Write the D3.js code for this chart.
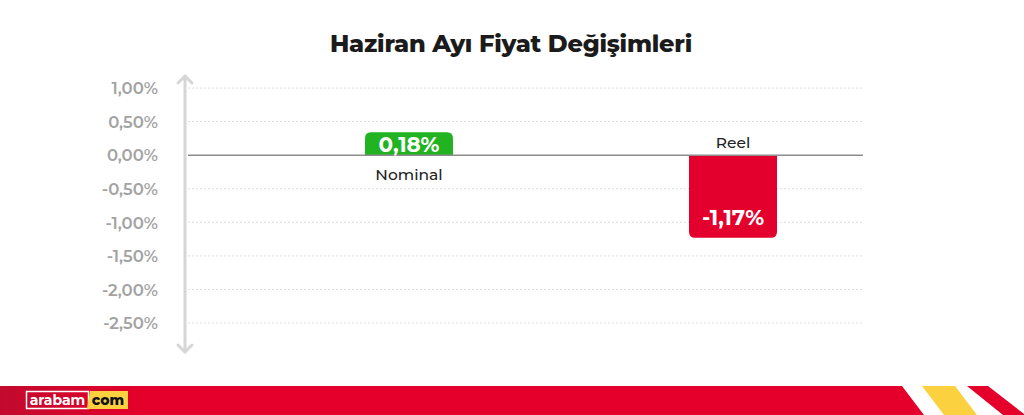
<!DOCTYPE html>
<html><head><meta charset="utf-8">
<script src="https://cdn.jsdelivr.net/npm/d3@7"></script>
<style>html,body{margin:0;padding:0;background:#fff;overflow:hidden}</style>
</head><body>
<svg id="c" width="1024" height="415"></svg>
<script>
const categories = ["Nominal", "Reel"];
const values = [0.18, -1.17];
const valueLabels = ["0,18%", "-1,17%"];
const tickValues = [1, 0.5, 0, -0.5, -1, -1.5, -2, -2.5];
const tickLabels = ["1,00%", "0,50%", "0,00%", "-0,50%", "-1,00%", "-1,50%", "-2,00%", "-2,50%"];
const title = "Haziran Ayı Fiyat Değişimleri";

const svg = d3.select("#c");
const font = "Montserrat, Inter, 'Open Sans', sans-serif";

const y = d3.scaleLinear().domain([1, -2.5]).range([88, 323]);
const x = d3.scalePoint().domain(categories).range([409, 733]);
const barW = 88, minH = 23;

// title
svg.append("text").attr("x", 511).attr("y", 52).attr("text-anchor", "middle")
  .attr("font-family", font).attr("font-weight", 800).attr("font-size", 24)
  .attr("fill", "#1b1b1b").attr("letter-spacing", -0.2).text(title);

// gridlines
svg.append("g").selectAll("line").data(tickValues.filter(d => d !== 0)).join("line")
  .attr("x1", 188).attr("x2", 863).attr("y1", d => y(d)).attr("y2", d => y(d))
  .attr("stroke", "#dedede").attr("stroke-width", 1).attr("stroke-dasharray", "2,2");

// y axis labels
const yAxis = d3.axisLeft(y).tickValues(tickValues).tickFormat((d, i) => tickLabels[i]).tickSize(0).tickPadding(0);
const ga = svg.append("g").attr("transform", "translate(158,0)").call(yAxis);
ga.select(".domain").remove();
ga.selectAll("text").attr("font-family", font).attr("font-weight", 600).attr("font-size", 16.5)
  .attr("fill", "#a3a3a3").attr("dy", "0.35em");

// axis arrow line
const ax = svg.append("g").attr("stroke", "#d6d6d6").attr("stroke-width", 3).attr("fill", "none")
  .attr("stroke-linecap", "round").attr("stroke-linejoin", "round");
ax.append("line").attr("x1", 185).attr("x2", 185).attr("y1", 76).attr("y2", 352);
ax.append("path").attr("d", "M178,83 L185,76 L192,83");
ax.append("path").attr("d", "M178,345 L185,352 L192,345");

// bars
function barPath(cx, v) {
  const y0 = y(0);
  let h = Math.abs(y(v) - y0);
  h = Math.max(h, minH);
  const r = 6, x0 = cx - barW / 2, x1 = cx + barW / 2;
  if (v >= 0) {
    const t = y0 - h;
    return `M${x0},${y0} L${x0},${t + r} Q${x0},${t} ${x0 + r},${t} L${x1 - r},${t} Q${x1},${t} ${x1},${t + r} L${x1},${y0} Z`;
  } else {
    const b = y0 + h + 4;
    return `M${x0},${y0} L${x1},${y0} L${x1},${b - r} Q${x1},${b} ${x1 - r},${b} L${x0 + r},${b} Q${x0},${b} ${x0},${b - r} Z`;
  }
}
const data = categories.map((c, i) => ({c, v: values[i], l: valueLabels[i]}));
svg.append("g").selectAll("path").data(data).join("path")
  .attr("d", d => barPath(x(d.c), d.v))
  .attr("fill", d => d.v >= 0 ? "#22b322" : "#e3002c");

// zero line
svg.append("line").attr("x1", 188).attr("x2", 863).attr("y1", y(0)).attr("y2", y(0))
  .attr("stroke", "#8c8c8c").attr("stroke-width", 1.5);

// value labels
svg.append("g").selectAll("text").data(data).join("text")
  .attr("x", d => x(d.c)).attr("text-anchor", "middle")
  .attr("y", d => d.v >= 0 ? y(0) - Math.max(Math.abs(y(d.v) - y(0)), minH) / 2 + 8 : y(d.v) - 9)
  .attr("font-family", font).attr("font-weight", 700).attr("font-size", 21.5)
  .attr("fill", "#fff").text(d => d.l);

// category labels
svg.append("g").selectAll("text").data(data).join("text")
  .attr("x", d => x(d.c)).attr("text-anchor", "middle")
  .attr("y", d => d.v >= 0 ? y(0) + 25 : y(0) - 7)
  .attr("font-family", font).attr("font-weight", 500).attr("font-size", 15.5)
  .attr("fill", "#222").text(d => d.c);

// footer
const defs = svg.append("defs");
const gr = defs.append("linearGradient").attr("id", "fg");
gr.append("stop").attr("offset", "0").attr("stop-color", "#c20a2e");
gr.append("stop").attr("offset", "0.15").attr("stop-color", "#e4002b");
gr.append("stop").attr("offset", "1").attr("stop-color", "#e4002b");
svg.append("polygon").attr("points", "0,386 902,386 924,415 0,415").attr("fill", "url(#fg)");
svg.append("polygon").attr("points", "922,386 955,386 977,415 944,415").attr("fill", "#fbd140");
svg.append("polygon").attr("points", "967,386 988,386 1024,414 1024,415 1003,415").attr("fill", "#e4002b");

// logo
svg.append("rect").attr("x", 26.5).attr("y", 391.5).attr("width", 62).attr("height", 17)
  .attr("fill", "none").attr("stroke", "#fff").attr("stroke-width", 1.5);
svg.append("text").attr("x", 57.5).attr("y", 405).attr("text-anchor", "middle")
  .attr("font-family", font).attr("font-weight", 700).attr("font-size", 14).attr("fill", "#fff").text("arabam");
svg.append("polygon").attr("points", "90,391 128,391 128,409 87,409").attr("fill", "#fbd140");
svg.append("text").attr("x", 108).attr("y", 405).attr("text-anchor", "middle")
  .attr("font-family", font).attr("font-weight", 800).attr("font-size", 14).attr("fill", "#111").text("com");
</script>
</body></html>
